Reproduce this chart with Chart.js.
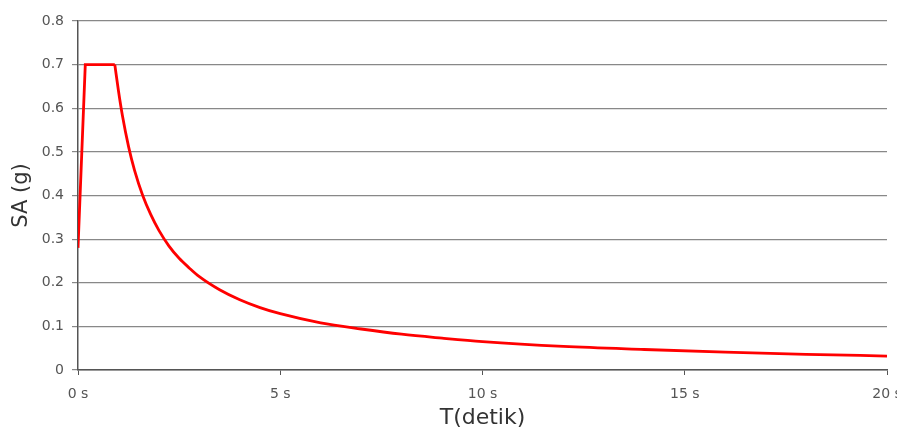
<!DOCTYPE html>
<html>
<head>
<meta charset="utf-8">
<script src="https://cdn.jsdelivr.net/npm/chart.js@4/dist/chart.umd.min.js"></script>
<style>
	html, body { margin: 0; padding: 0; background: #fff; }
	#wrap { width: 897px; height: 431px; }
</style>
</head>
<body>
<div id="wrap"><canvas id="spectrum" width="897" height="431"></canvas></div>
<script>
// periode (detik) and spectral acceleration (g)
// rising branch + plateau
var risePeriods = [0, 0.18, 0.91];
var riseValues = [0.28, 0.70, 0.70];
// descending branch after the plateau
var decayPeriods = [0.91, 1.0, 1.1, 1.25, 1.4, 1.6, 1.8, 2.0, 2.25, 2.5, 2.75, 3.0, 3.5, 4.0, 4.5, 5, 6, 7, 8, 9, 10, 12, 14, 16, 18, 20];
var decayValues = [0.70, 0.64, 0.582, 0.512, 0.457, 0.40, 0.356, 0.32, 0.284, 0.256, 0.234, 0.214, 0.184, 0.161, 0.143, 0.129, 0.108, 0.094, 0.082, 0.073, 0.065, 0.054, 0.047, 0.041, 0.036, 0.032];
var yTicks = [0, 0.1, 0.2, 0.3, 0.4, 0.5, 0.6, 0.7, 0.8];
var xTicks = [0, 5, 10, 15, 20];

function toPoints(xs, ys) {
	var pts = [];
	for (var i = 0; i < xs.length; i++) {
		pts.push({ x: xs[i], y: ys[i] });
	}
	return pts;
}

var lineStyle = {
	borderColor: '#ff0000',
	borderWidth: 2.8,
	pointRadius: 0,
	fill: false
};

var config = {
	type: 'line',
	data: {
		datasets: [
			Object.assign({ label: 'SA naik', data: toPoints(risePeriods, riseValues), tension: 0 }, lineStyle),
			Object.assign({ label: 'SA turun', data: toPoints(decayPeriods, decayValues), cubicInterpolationMode: 'monotone' }, lineStyle)
		]
	},
	options: {
		responsive: false,
		animation: false,
		layout: {
			autoPadding: false,
			padding: { top: 21, right: 10, bottom: 0, left: 0 }
		},
		plugins: {
			legend: { display: false },
			tooltip: { enabled: false }
		},
		scales: {
			x: {
				type: 'linear',
				min: 0,
				max: 20,
				afterBuildTicks: function(scale) {
					scale.ticks = xTicks.map(function(v) { return { value: v }; });
				},
				afterFit: function(scale) {
					scale.height = 61;
					// keep the last label from shrinking the plot
					scale.paddingLeft = 0;
					scale.paddingRight = 0;
				},
				border: { color: '#555', width: 1.5 },
				grid: { drawOnChartArea: false, drawTicks: true, tickLength: 5, color: '#555' },
				ticks: {
					padding: 11,
					maxRotation: 0,
					color: '#555',
					font: { family: 'DejaVu Sans', size: 14 },
					callback: function(v) { return v + ' s'; }
				},
				title: {
					display: true,
					text: 'T(detik)',
					color: '#333',
					padding: { top: 0, bottom: 0 },
					font: { family: 'DejaVu Sans', size: 22 }
				}
			},
			y: {
				min: 0,
				max: 0.8,
				afterBuildTicks: function(scale) {
					scale.ticks = yTicks.map(function(v) { return { value: v }; });
				},
				afterFit: function(scale) {
					scale.width = 78;
					scale.paddingTop = 0;
					scale.paddingBottom = 0;
				},
				border: { color: '#555', width: 1.5 },
				grid: { color: '#888', lineWidth: 1.2, tickLength: 6 },
				ticks: {
					padding: 8,
					color: '#555',
					font: { family: 'DejaVu Sans', size: 14 },
					callback: function(v) { return v === 0 ? '0' : v.toFixed(1); }
				},
				title: {
					display: true,
					text: 'SA (g)',
					color: '#333',
					padding: { top: 9, bottom: 0 },
					font: { family: 'DejaVu Sans', size: 21 }
				}
			}
		}
	}
};

var ctx = document.getElementById('spectrum').getContext('2d');
new Chart(ctx, config);
</script>
</body>
</html>
